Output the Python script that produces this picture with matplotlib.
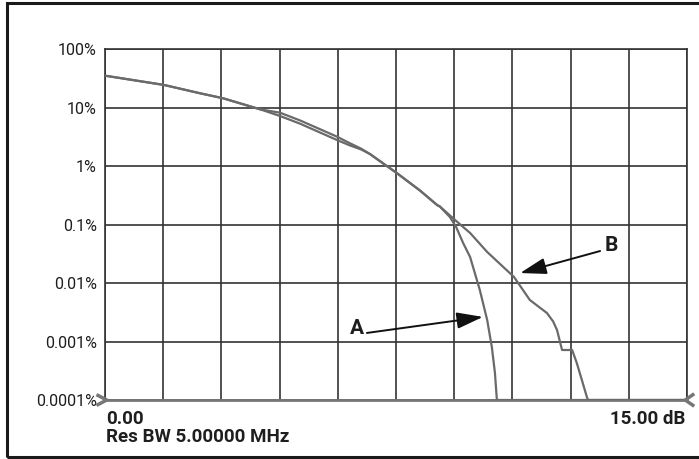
import matplotlib
matplotlib.use("Agg")
import matplotlib.pyplot as plt
from matplotlib.patches import Rectangle
from matplotlib.lines import Line2D
import numpy as np

plt.rcParams['font.family'] = ['Roboto', 'DejaVu Sans']

# CCDF data (x in dB above average power, y in percent)
a_db = [0, 1.52, 2.45, 3.04, 4.0, 4.51, 5.03, 5.98, 6.31, 6.6, 6.83, 7.11, 7.53, 8.12,
        8.56, 8.63, 8.89, 9.05, 9.23, 9.41, 9.66, 9.85, 9.97, 10.05, 10.10, 15.0]
a_pct = [35.0, 24.3, 17.5, 14.4, 9.3, 7.16, 5.28, 2.78, 2.25, 1.92, 1.6, 1.18, 0.75, 0.38,
         0.215, 0.203, 0.134, 0.0906, 0.0483, 0.0278, 0.0076, 0.00233, 0.000805,
         0.00029, 0.0001, 0.0001]

b_db = [0, 1.52, 2.45, 3.04, 4.0, 4.51, 5.03, 5.98, 6.31, 6.6, 6.83, 7.11, 7.53, 8.12,
        8.56, 8.63, 9.05, 9.41, 9.85, 10.54, 10.95, 11.39, 11.55, 11.65, 11.78,
        12.04, 12.16, 12.29, 12.42, 12.45, 15.0]
b_pct = [35.0, 24.3, 17.5, 14.4, 9.3, 8.15, 6.0, 3.17, 2.45, 1.98, 1.6, 1.18, 0.75, 0.38,
         0.215, 0.203, 0.115, 0.0716, 0.0339, 0.0127, 0.00512, 0.00307, 0.00220,
         0.00157, 0.000716, 0.000716, 0.000428, 0.000220, 0.000112, 0.0001, 0.0001]

y_ticks = [100, 10, 1, 0.1, 0.01, 0.001, 0.0001]
y_labels = ['100%', '10%', '1%', '0.1%', '0.01%', '0.001%', '0.0001%']
x_start, x_stop = 0.0, 15.0
x_divs = 10

fig = plt.figure(figsize=(6.99, 4.59), dpi=100)
ax = fig.add_axes([105/699, 1 - 400/459, 582/699, 351/459])

grid_col = '#333333'
curve_col = '#6a6a6a'
text_col = '#1e1e1e'

ax.plot(b_db, b_pct, color=curve_col, lw=1.6, solid_joinstyle='round', zorder=3)
ax.plot(a_db, a_pct, color=curve_col, lw=1.6, solid_joinstyle='round', zorder=3)

ax.set_yscale('log')
ax.set_xlim(x_start, x_stop)
ax.set_ylim(1e-4, 100)
ax.set_xticks(np.linspace(x_start, x_stop, x_divs + 1))
ax.set_xticklabels([])
ax.set_yticks(y_ticks)
ax.set_yticklabels(y_labels)
ax.yaxis.set_minor_locator(matplotlib.ticker.NullLocator())
ax.tick_params(length=0, pad=6, labelsize=11.5, labelcolor=text_col)
ax.grid(True, color=grid_col, lw=1.2)
for s in ['top', 'left', 'right']:
    ax.spines[s].set_color(grid_col)
    ax.spines[s].set_linewidth(1.2)
ax.spines['bottom'].set_color('#777777')
ax.spines['bottom'].set_linewidth(2.0)

# marker chevrons at both ends of the x axis
ax.add_line(Line2D([-0.012, 0.003, -0.012], [0.013, 0.0, -0.013], transform=ax.transAxes,
                   color='#777777', lw=2.5, clip_on=False, zorder=5))
ax.add_line(Line2D([1.01, 0.997, 1.01], [0.015, 0.0, -0.015], transform=ax.transAxes,
                   color='#777777', lw=2.5, clip_on=False, zorder=5))

# annotations
arrow = dict(arrowstyle='-|>,head_length=0.8,head_width=0.25', color='#111111',
             lw=1.4, mutation_scale=20, shrinkA=0, shrinkB=0)
ax.annotate('', xy=(9.74, 0.00263), xytext=(6.75, 0.0014), arrowprops=arrow)
ax.text(6.49, 0.0017, 'A', ha='center', va='center', fontsize=15,
        fontweight='bold', color=text_col)
ax.annotate('', xy=(10.70, 0.0148), xytext=(12.76, 0.0352), arrowprops=arrow)
ax.text(13.04, 0.0446, 'B', ha='center', va='center', fontsize=15,
        fontweight='bold', color=text_col)

# bottom labels
ax.text(0.002, -24/351, '0.00', transform=ax.transAxes, ha='left', va='baseline',
        fontsize=13.5, fontweight='bold', color=text_col)
ax.text(0.002, -42/351, 'Res BW 5.00000 MHz', transform=ax.transAxes, ha='left',
        va='baseline', fontsize=13.5, fontweight='bold', color=text_col)
ax.text(0.998, -24/351, '15.00 dB', transform=ax.transAxes, ha='right', va='baseline',
        fontsize=13.5, fontweight='bold', color=text_col)

# outer frame
fig.patches.append(Rectangle((7/699, 1 - 457/459), 1.02, (457 - 3)/459,
                             transform=fig.transFigure, fill=False,
                             edgecolor='#1a1a1a', lw=2.2))

fig.savefig('out.png', dpi=100)
